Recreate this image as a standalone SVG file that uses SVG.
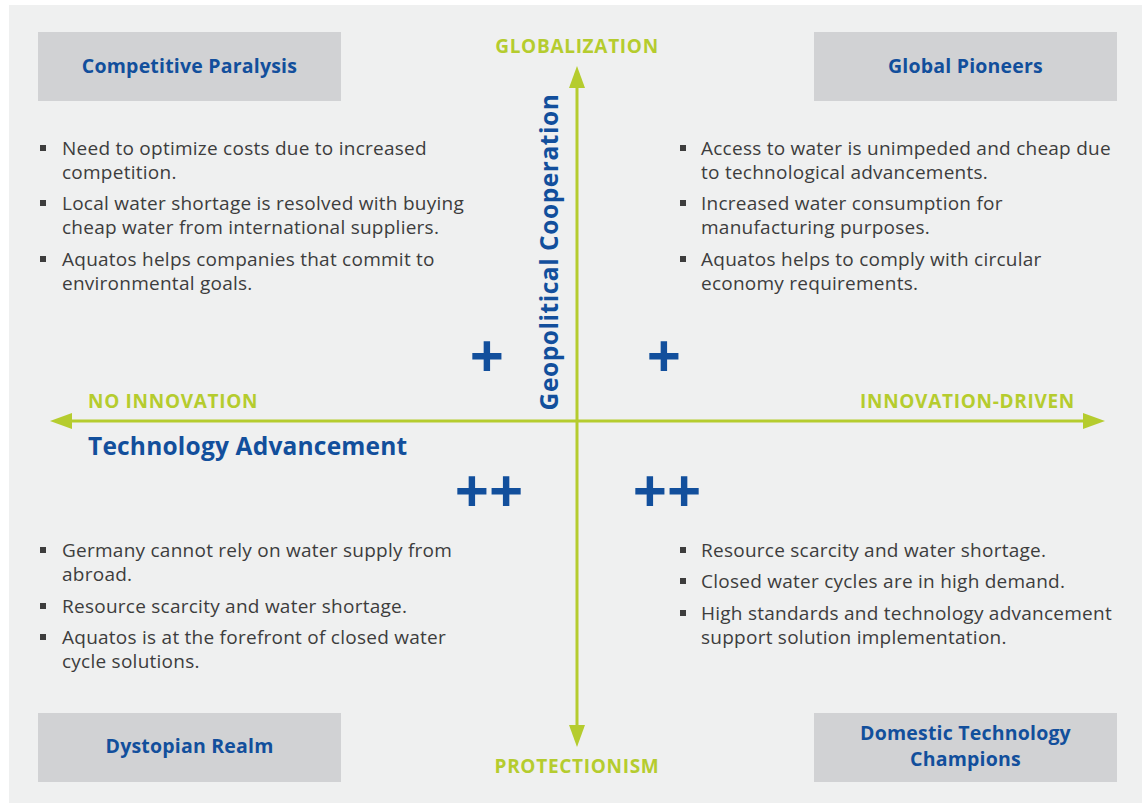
<svg xmlns="http://www.w3.org/2000/svg" width="1142" height="803" viewBox="0 0 1142 803">
<defs>
<style>
.bg{fill:#eff0f0}
.box{fill:#d1d2d4}
.title{font-family:"Open Sans","Noto Sans",sans-serif;font-weight:700;font-size:19.5px;letter-spacing:0.2px;fill:#124f9c;text-anchor:middle}
.body{font-family:"Open Sans","Noto Sans",sans-serif;font-size:19px;letter-spacing:0.25px;fill:#3d3d3d}
.bul{fill:#3d3d3d}
.axis{font-family:"Open Sans","Noto Sans",sans-serif;font-weight:700;font-size:19px;letter-spacing:0.7px;fill:#b5cc2e}
.big{font-family:"Open Sans","Noto Sans",sans-serif;font-weight:700;font-size:24.5px;letter-spacing:0.2px;fill:#124f9c}
.plus{font-family:"Open Sans","Noto Sans",sans-serif;font-weight:700;font-size:60px;fill:#124f9c;text-anchor:middle}
.ax{stroke:#b5cc2e;stroke-width:3;fill:none}
</style>
<marker id="ah" viewBox="0 0 22 16" refX="0" refY="8" markerWidth="22" markerHeight="16" markerUnits="userSpaceOnUse" orient="auto"><path d="M0,0 L22,8 L0,16 z" fill="#b5cc2e"/></marker>
</defs>
<rect x="0" y="0" width="1142" height="803" fill="#ffffff"/>
<rect class="bg" x="9" y="5" width="1133" height="798"/>

<g id="connectors">
<line class="ax" x1="577" y1="421" x2="577" y2="88" marker-end="url(#ah)"/>
<line class="ax" x1="577" y1="421" x2="577" y2="725" marker-end="url(#ah)"/>
<line class="ax" x1="577" y1="421" x2="72" y2="421" marker-end="url(#ah)"/>
<line class="ax" x1="577" y1="421" x2="1083" y2="421" marker-end="url(#ah)"/>
</g>

<g id="axis-labels">
<text class="axis" x="577" y="53" text-anchor="middle">GLOBALIZATION</text>
<text class="axis" x="577" y="773" text-anchor="middle">PROTECTIONISM</text>
<text class="axis" x="88" y="408">NO INNOVATION</text>
<text class="axis" x="1075" y="408" text-anchor="end">INNOVATION-DRIVEN</text>
<text class="big" x="88" y="455">Technology Advancement</text>
<text class="big" transform="translate(558,252) rotate(-90)" text-anchor="middle" style="letter-spacing:0.55px">Geopolitical Cooperation</text>
</g>

<g id="pluses">
<text class="plus" x="487" y="378">+</text>
<text class="plus" x="664" y="378">+</text>
<text class="plus" x="489" y="513">++</text>
<text class="plus" x="667" y="513">++</text>
</g>

<g id="competitive-paralysis">
<rect class="box" x="38" y="32" width="303" height="69"/>
<text class="title" x="189.5" y="73">Competitive Paralysis</text>
<rect class="bul" x="40" y="145" width="6" height="6"/>
<rect class="bul" x="40" y="200" width="6" height="6"/>
<rect class="bul" x="40" y="256" width="6" height="6"/>
<text class="body"><tspan x="62" y="155">Need to optimize costs due to increased</tspan><tspan x="62" y="179">competition.</tspan><tspan x="62" y="210">Local water shortage is resolved with buying</tspan><tspan x="62" y="234">cheap water from international suppliers.</tspan><tspan x="62" y="266">Aquatos helps companies that commit to</tspan><tspan x="62" y="290">environmental goals.</tspan></text>
</g>

<g id="global-pioneers">
<rect class="box" x="814" y="32" width="303" height="69"/>
<text class="title" x="965.5" y="73">Global Pioneers</text>
<rect class="bul" x="680" y="145" width="6" height="6"/>
<rect class="bul" x="680" y="200" width="6" height="6"/>
<rect class="bul" x="680" y="256" width="6" height="6"/>
<text class="body"><tspan x="701" y="155">Access to water is unimpeded and cheap due</tspan><tspan x="701" y="179">to technological advancements.</tspan><tspan x="701" y="210">Increased water consumption for</tspan><tspan x="701" y="234">manufacturing purposes.</tspan><tspan x="701" y="266">Aquatos helps to comply with circular</tspan><tspan x="701" y="290">economy requirements.</tspan></text>
</g>

<g id="dystopian-realm">
<rect class="box" x="38" y="713" width="303" height="69"/>
<text class="title" x="189.5" y="753">Dystopian Realm</text>
<rect class="bul" x="40" y="547" width="6" height="6"/>
<rect class="bul" x="40" y="603" width="6" height="6"/>
<rect class="bul" x="40" y="634" width="6" height="6"/>
<text class="body"><tspan x="62" y="557">Germany cannot rely on water supply from</tspan><tspan x="62" y="581">abroad.</tspan><tspan x="62" y="613">Resource scarcity and water shortage.</tspan><tspan x="62" y="644">Aquatos is at the forefront of closed water</tspan><tspan x="62" y="668">cycle solutions.</tspan></text>
</g>

<g id="domestic-technology-champions">
<rect class="box" x="814" y="713" width="303" height="69"/>
<text class="title" x="965.5" y="740">Domestic Technology</text>
<text class="title" x="965.5" y="766">Champions</text>
<rect class="bul" x="680" y="547" width="6" height="6"/>
<rect class="bul" x="680" y="578" width="6" height="6"/>
<rect class="bul" x="680" y="610" width="6" height="6"/>
<text class="body"><tspan x="701" y="557">Resource scarcity and water shortage.</tspan><tspan x="701" y="588">Closed water cycles are in high demand.</tspan><tspan x="701" y="620">High standards and technology advancement</tspan><tspan x="701" y="644">support solution implementation.</tspan></text>
</g>
</svg>
